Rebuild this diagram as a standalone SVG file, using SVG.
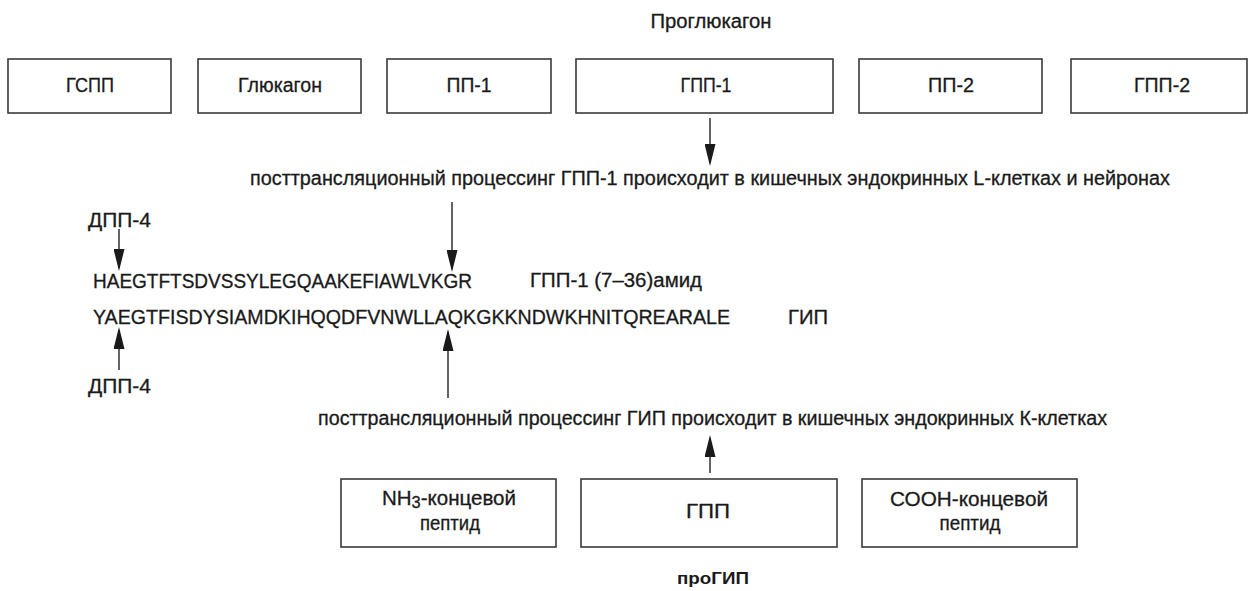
<svg xmlns="http://www.w3.org/2000/svg" width="1250" height="591" viewBox="0 0 1250 591">
<style>
.box{fill:#fff;stroke:#3a3a3a;stroke-width:1.6}
.t{font-family:"Liberation Sans",Arial,sans-serif;font-size:20px;fill:#1a1a1a;stroke:#1a1a1a;stroke-width:0.3}
.c{text-anchor:middle}
.b{font-weight:bold;font-size:17px;stroke-width:0}
.conn line{stroke:#222;stroke-width:1.4}
</style>
<defs>
<marker id="ah" viewBox="0 0 22 11" refX="19" refY="5.5" markerWidth="22" markerHeight="11" markerUnits="userSpaceOnUse" orient="auto">
<path d="M0,0 L22,5.5 L0,11 z" fill="#1a1a1a"/>
</marker>
</defs>
<rect width="1250" height="591" fill="#fff"/>

<g id="title-proglucagon"><text class="t c" x="711" y="28" textLength="121" lengthAdjust="spacingAndGlyphs">Проглюкагон</text></g>

<g id="node-gspp"><rect class="box" x="8" y="59" width="163" height="54"/><text class="t c" x="90" y="92" textLength="48" lengthAdjust="spacingAndGlyphs">ГСПП</text></g>
<g id="node-glucagon"><rect class="box" x="198" y="59" width="163" height="54"/><text class="t c" x="280" y="92" textLength="84" lengthAdjust="spacingAndGlyphs">Глюкагон</text></g>
<g id="node-pp1"><rect class="box" x="387" y="59" width="164" height="54"/><text class="t c" x="469" y="92" textLength="45" lengthAdjust="spacingAndGlyphs">ПП-1</text></g>
<g id="node-gpp1"><rect class="box" x="576" y="59" width="257" height="54"/><text class="t c" x="706" y="92" textLength="51" lengthAdjust="spacingAndGlyphs">ГПП-1</text></g>
<g id="node-pp2"><rect class="box" x="859" y="59" width="183" height="54"/><text class="t c" x="951" y="92" textLength="46" lengthAdjust="spacingAndGlyphs">ПП-2</text></g>
<g id="node-gpp2"><rect class="box" x="1071" y="59" width="176" height="54"/><text class="t c" x="1162" y="92" textLength="56" lengthAdjust="spacingAndGlyphs">ГПП-2</text></g>

<g id="label-glp1-processing"><text class="t" x="250" y="185" textLength="920" lengthAdjust="spacingAndGlyphs">посттрансляционный процессинг ГПП-1 происходит в кишечных эндокринных L-клетках и нейронах</text></g>
<g id="label-dpp4-top"><text class="t" x="88" y="227" textLength="63" lengthAdjust="spacingAndGlyphs">ДПП-4</text></g>
<g id="seq-glp1"><text class="t" x="93" y="288" textLength="379" lengthAdjust="spacingAndGlyphs">HAEGTFTSDVSSYLEGQAAKEFIAWLVKGR</text></g>
<g id="label-glp1-amide"><text class="t" x="530" y="287" textLength="172" lengthAdjust="spacingAndGlyphs">ГПП-1 (7–36)амид</text></g>
<g id="seq-gip"><text class="t" x="93" y="324" textLength="637" lengthAdjust="spacingAndGlyphs">YAEGTFISDYSIAMDKIHQQDFVNWLLAQKGKKNDWKHNITQREARALE</text></g>
<g id="label-gip"><text class="t" x="788" y="324" textLength="40" lengthAdjust="spacingAndGlyphs">ГИП</text></g>
<g id="label-dpp4-bottom"><text class="t" x="88" y="393" textLength="63" lengthAdjust="spacingAndGlyphs">ДПП-4</text></g>
<g id="label-gip-processing"><text class="t" x="318" y="425" textLength="789" lengthAdjust="spacingAndGlyphs">посттрансляционный процессинг ГИП происходит в кишечных эндокринных К-клетках</text></g>

<g id="node-nh3"><rect class="box" x="341" y="479" width="215" height="68"/><text class="t c" x="449" y="505" textLength="134" lengthAdjust="spacingAndGlyphs">NH<tspan font-size="16" dy="3">3</tspan><tspan dy="-3">-концевой</tspan></text><text class="t c" x="450" y="530" textLength="60" lengthAdjust="spacingAndGlyphs">пептид</text></g>
<g id="node-gpp"><rect class="box" x="581" y="479" width="256" height="68"/><text class="t c" x="708" y="518" textLength="44" lengthAdjust="spacingAndGlyphs">ГПП</text></g>
<g id="node-cooh"><rect class="box" x="862" y="479" width="215" height="68"/><text class="t c" x="969" y="506" textLength="158" lengthAdjust="spacingAndGlyphs">СООН-концевой</text><text class="t c" x="970" y="530" textLength="61" lengthAdjust="spacingAndGlyphs">пептид</text></g>

<g id="title-progip"><text class="t c b" x="713" y="584" textLength="72" lengthAdjust="spacingAndGlyphs">проГИП</text></g>

<g id="connectors" class="conn">
<line x1="710" y1="118" x2="710" y2="163" marker-end="url(#ah)"/>
<line x1="452" y1="202" x2="452" y2="269" marker-end="url(#ah)"/>
<line x1="119" y1="229" x2="119" y2="268" marker-end="url(#ah)"/>
<line x1="119" y1="370" x2="119" y2="330" marker-end="url(#ah)"/>
<line x1="448" y1="398" x2="448" y2="332" marker-end="url(#ah)"/>
<line x1="710" y1="473" x2="710" y2="438" marker-end="url(#ah)"/>
</g>
</svg>
